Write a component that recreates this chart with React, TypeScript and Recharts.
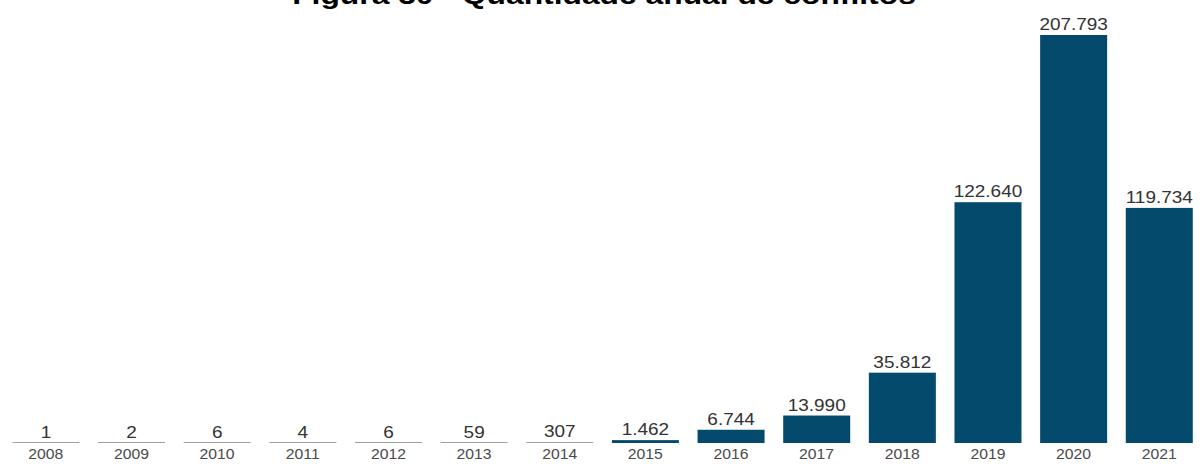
import React from 'react';
import { BarChart, Bar, XAxis, YAxis, LabelList } from 'recharts';

const years = ['2008', '2009', '2010', '2011', '2012', '2013', '2014', '2015', '2016', '2017', '2018', '2019', '2020', '2021'];
const conflicts = [1, 2, 6, 4, 6, 59, 307, 1462, 6744, 13990, 35812, 122640, 207793, 119734];
const titleText = 'Figura 30 - Quantidade anual de conflitos';

const data = years.map((y, i) => ({ year: y, value: conflicts[i] }));

const fmt = (n: number) => String(n).replace(/\B(?=(\d{3})+(?!\d))/g, '.');

const BAR_COLOR = '#034a6d';

const BarShape = (props: any) => {
  const { x, y, width, height } = props;
  if (height < 1) {
    return <rect x={x} y={y + height - 1} width={width} height={1} fill="#a0a0a0" />;
  }
  return <rect x={x} y={y} width={width} height={height} fill={BAR_COLOR} />;
};

const ValueLabel = (props: any) => {
  const { x, y, width, value } = props;
  const cx = Number(x) + Number(width) / 2;
  const ty = Number(y) - 5;
  return (
    <text
      transform={`translate(${cx},${ty}) scale(1.2,1)`}
      x={0}
      y={0}
      textAnchor="middle"
      fontSize={15.8}
      fontFamily="'Liberation Sans', Arial, sans-serif"
      fill="#333"
    >
      {fmt(Number(value))}
    </text>
  );
};

const YearTick = (props: any) => {
  const { x, y, payload } = props;
  return (
    <text
      transform={`translate(${x},${Number(y) + 15.5}) scale(1.05,1)`}
      x={0}
      y={0}
      textAnchor="middle"
      fontSize={15}
      fontFamily="'Liberation Sans', Arial, sans-serif"
      fill="#4a4a4a"
    >
      {payload.value}
    </text>
  );
};

export default function App() {
  return (
    <div style={{ position: 'absolute', left: 0, top: 0, width: 1202, height: 464, background: '#fff' }}>
      <svg width={1202} height={464} style={{ position: 'absolute', left: 0, top: 0 }}>
        <text
          transform="translate(604,4) scale(1.2,1)"
          x={0}
          y={0}
          textAnchor="middle"
          fontSize={26.5}
          fontWeight="bold"
          fontFamily="'Liberation Sans', Arial, sans-serif"
          fill="#000"
        >
          {titleText}
        </text>
      </svg>
      <div style={{ position: 'absolute', left: 0, top: 0 }}>
        <BarChart width={1202} height={464} data={data} margin={{ top: 35, right: 0, left: 3, bottom: 0 }} barCategoryGap="11%">
          <XAxis dataKey="year" axisLine={false} tickLine={false} tickSize={0} tickMargin={0} height={21} interval={0} tick={<YearTick />} />
          <YAxis hide domain={[0, 207793]} />
          <Bar dataKey="value" fill={BAR_COLOR} isAnimationActive={false} shape={<BarShape />}>
            <LabelList dataKey="value" content={<ValueLabel />} />
          </Bar>
        </BarChart>
      </div>
    </div>
  );
}
